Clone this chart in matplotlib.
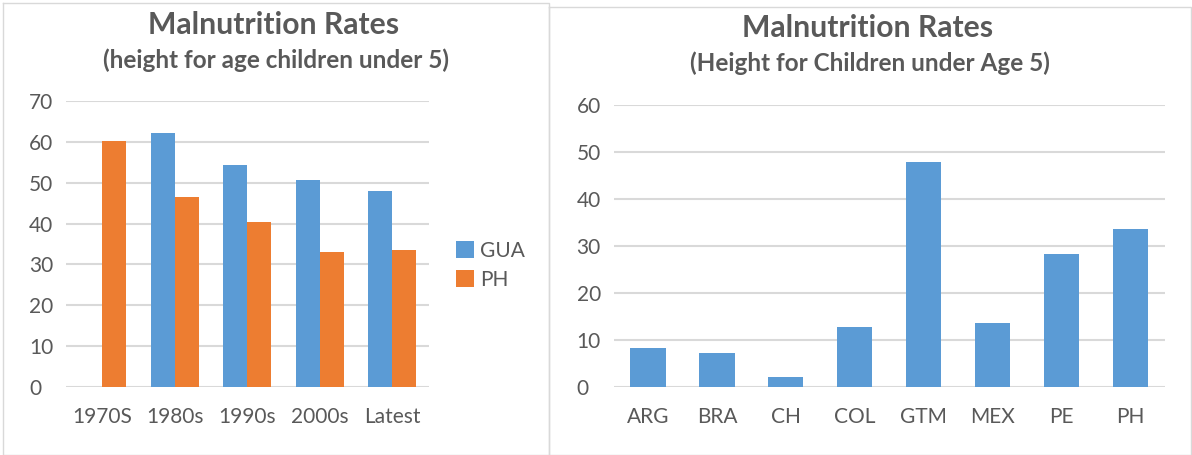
import matplotlib
matplotlib.use('Agg')
import numpy as np
import matplotlib.pyplot as plt
from matplotlib.lines import Line2D

# left chart data
decades = ['1970S', '1980s', '1990s', '2000s', 'Latest']
gua = [0, 62.1, 54.3, 50.7, 47.9]
ph = [60.1, 46.6, 40.3, 33.0, 33.6]

# right chart data
countries = ['ARG', 'BRA', 'CH', 'COL', 'GTM', 'MEX', 'PE', 'PH']
rates = [8.2, 7.1, 2.0, 12.7, 48.0, 13.6, 28.2, 33.6]

BLUE = '#5B9BD5'
ORANGE = '#ED7D31'
TXT = '#595959'
GRID = '#D9D9D9'

plt.rcParams['font.family'] = ['Lato', 'DejaVu Sans']

W, H = 1192, 455
fig = plt.figure(figsize=(W / 100, H / 100), dpi=100)


def px_axes(x0, x1, ytop, ybot):
    return fig.add_axes([x0 / W, (H - ybot) / H, (x1 - x0) / W, (ybot - ytop) / H])


def style(ax, top, labels):
    ax.set_ylim(0, top)
    ax.set_yticks(np.arange(0, top + 1, 10))
    ax.set_xticks(np.arange(len(labels)))
    ax.set_xticklabels(labels)
    ax.set_xlim(-0.5, len(labels) - 0.5)
    for s in ax.spines.values():
        s.set_visible(False)
    ax.yaxis.grid(True, color=GRID, lw=1.5)
    ax.set_axisbelow(True)
    ax.tick_params(axis='both', length=0, labelsize=15, labelcolor=TXT)
    ax.tick_params(axis='y', pad=26.6)
    ax.tick_params(axis='x', pad=14.5)
    for t in ax.get_yticklabels():
        t.set_horizontalalignment('left')


# ---- left chart ----
ax1 = px_axes(66, 428.6, 101, 387)
x = np.arange(len(decades))
w = 0.33
ax1.bar(x - w / 2, gua, w, color=BLUE, label='GUA')
ax1.bar(x + w / 2, ph, w, color=ORANGE, label='PH')
style(ax1, 70, decades)
ax1.legend(loc='center left', bbox_to_anchor=(456 / W, (H - 265.4) / H),
           bbox_transform=fig.transFigure, frameon=False, fontsize=15,
           labelcolor=TXT, handlelength=0.87, handleheight=0.87,
           handletextpad=0.3, labelspacing=0.45, borderpad=0, borderaxespad=0)

# ---- right chart ----
ax2 = px_axes(613.6, 1165, 105.3, 386.7)
ax2.bar(np.arange(len(countries)), rates, 0.51, color=BLUE)
style(ax2, 60, countries)

# titles
fig.text(274 / W, 1 - 25 / H, 'Malnutrition Rates', ha='center', va='center',
         fontsize=21.7, fontweight='bold', color=TXT)
fig.text(276 / W, 1 - 60 / H, '(height for age children under 5)', ha='center',
         va='center', fontsize=17.5, fontweight='bold', color=TXT)
fig.text(868 / W, 1 - 28 / H, 'Malnutrition Rates', ha='center', va='center',
         fontsize=21.7, fontweight='bold', color=TXT)
fig.text(870 / W, 1 - 63 / H, '(Height for Children under Age 5)', ha='center',
         va='center', fontsize=17.5, fontweight='bold', color=TXT)

# chart borders
def box(x0, x1, ytop, ybot):
    xs = [x0, x1, x1, x0, x0]
    ys = [ytop, ytop, ybot, ybot, ytop]
    fig.add_artist(Line2D([v / W for v in xs], [1 - v / H for v in ys],
                          transform=fig.transFigure, color=GRID, lw=1))

box(3, 549, 3, 454.5)
box(549, 1190.5, 7, 454.5)

fig.savefig('out.png', dpi=100)
